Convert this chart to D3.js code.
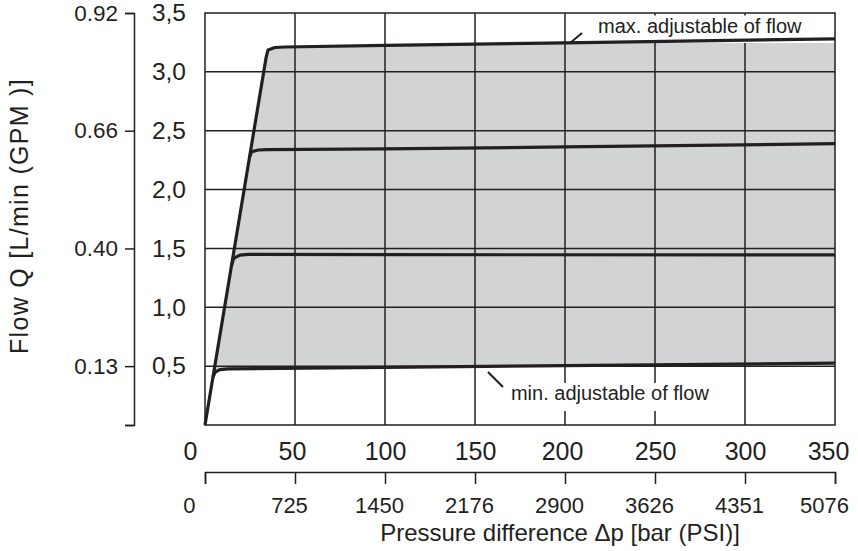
<!DOCTYPE html>
<html>
<head>
<meta charset="utf-8">
<script src="https://cdn.jsdelivr.net/npm/d3@7/dist/d3.min.js"></script>
<style>
  html, body { margin: 0; padding: 0; background: #ffffff; }
  svg { display: block; }
  text { font-family: "Liberation Sans", Arial, Helvetica, sans-serif; fill: #231f20; }
</style>
</head>
<body>
<svg id="chart" width="858" height="551"></svg>
<script>
// ---------- data ----------
const xBarTicks = [0, 50, 100, 150, 200, 250, 300, 350];
const xPsiLabels = ["0", "725", "1450", "2176", "2900", "3626", "4351", "5076"];
const yTicks = [0.5, 1.0, 1.5, 2.0, 2.5, 3.0, 3.5];
const yTickLabels = ["0,5", "1,0", "1,5", "2,0", "2,5", "3,0", "3,5"];
const gpmTickPos = [0, 0.5, 1.5, 2.5, 3.5];
const gpmTickLabels = ["", "0.13", "0.40", "0.66", "0.92"];

// curves: [pressure bar, flow L/min]
const curveMax = [[0, 0], [33.9, 3.118], [35.0, 3.186], [38.9, 3.207], [44.4, 3.211], [100, 3.225], [200, 3.247], [350, 3.28]];
const curveHigh = [[24.8, 2.28], [26.0, 2.322], [29.6, 2.336], [34.3, 2.339], [100, 2.345], [200, 2.362], [350, 2.39]];
const curveMid = [[14.6, 1.345], [15.9, 1.415], [19.4, 1.443], [24.1, 1.449], [100, 1.447], [350, 1.445]];
const curveMin = [[4.4, 0.408], [5.7, 0.45], [8.3, 0.471], [12.8, 0.476], [100, 0.49], [200, 0.505], [350, 0.525]];

const labelMax = "max. adjustable of flow";
const labelMin = "min. adjustable of flow";
const xTitle = "Pressure difference \u0394p [bar (PSI)]";
const yTitle = "Flow Q [L/min (GPM )]";

// ---------- layout ----------
const ink = "#231f20";
const svg = d3.select("#chart");
svg.append("rect").attr("width", 858).attr("height", 551).attr("fill", "#fff");

const x = d3.scaleLinear().domain([0, 350]).range([205, 835]);
const y = d3.scaleLinear().domain([0, 3.5]).range([425, 13]);

const line = d3.line().x(d => x(d[0])).y(d => y(d[1])).curve(d3.curveLinear);

// fill between max and min curves
const fillPts = curveMax.concat(curveMin.slice().reverse());
svg.append("path")
  .attr("d", line(fillPts) + "Z")
  .attr("fill", "#d1d3d4")
  .attr("stroke", "none");

// grid
const grid = svg.append("g").attr("stroke", ink).attr("stroke-width", 1.5);
xBarTicks.filter(v => v > 0 && v < 350).forEach(v => {
  grid.append("line").attr("x1", x(v)).attr("x2", x(v)).attr("y1", y(0)).attr("y2", y(3.5));
});
yTicks.filter(v => v < 3.5).forEach(v => {
  grid.append("line").attr("x1", x(0)).attr("x2", x(350)).attr("y1", y(v)).attr("y2", y(v));
});
svg.append("rect")
  .attr("x", x(0)).attr("y", y(3.5))
  .attr("width", x(350) - x(0)).attr("height", y(0) - y(3.5))
  .attr("fill", "none").attr("stroke", ink).attr("stroke-width", 1.5);

// label boxes (white backgrounds)
const maxAnchor = [202.8, 3.245];
const minAnchor = [157.2, 0.45];

const gMax = svg.append("g");
const tMax = gMax.append("text")
  .attr("x", x(maxAnchor[0]) + 28).attr("y", y(maxAnchor[1]) - 10)
  .attr("font-size", 20).text(labelMax);
const bbMax = tMax.node().getBBox();
gMax.insert("rect", "text")
  .attr("x", bbMax.x - 6).attr("y", y(3.5) + 2.5)
  .attr("width", x(350) - 1 - (bbMax.x - 6)).attr("height", y(maxAnchor[1]) - (y(3.5) + 2.5))
  .attr("fill", "#fff");

const gMin = svg.append("g");
const tMin = gMin.append("text")
  .attr("x", x(minAnchor[0]) + 23).attr("y", y(minAnchor[1]) + 28)
  .attr("font-size", 20).text(labelMin);
const bbMin = tMin.node().getBBox();
gMin.insert("rect", "text")
  .attr("x", bbMin.x - 4).attr("y", bbMin.y + 1)
  .attr("width", bbMin.width + 8).attr("height", bbMin.height + 6)
  .attr("fill", "#fff");

// curves
[curveMax, curveHigh, curveMid, curveMin].forEach(c => {
  svg.append("path")
    .attr("d", line(c))
    .attr("fill", "none")
    .attr("stroke", ink)
    .attr("stroke-width", 3.2)
    .attr("stroke-linejoin", "round")
    .attr("stroke-linecap", "butt");
});

// leader lines
svg.append("line")
  .attr("x1", x(maxAnchor[0])).attr("y1", y(maxAnchor[1]))
  .attr("x2", x(maxAnchor[0]) + 12).attr("y2", y(maxAnchor[1]) - 10)
  .attr("stroke", ink).attr("stroke-width", 2);
svg.append("line")
  .attr("x1", x(minAnchor[0])).attr("y1", y(minAnchor[1]))
  .attr("x2", x(minAnchor[0]) + 15).attr("y2", y(minAnchor[1]) + 15)
  .attr("stroke", ink).attr("stroke-width", 2);

// primary x axis labels (bar)
const xAxis = svg.append("g")
  .attr("transform", `translate(0,${y(0)})`)
  .call(d3.axisBottom(x).tickValues(xBarTicks).tickSize(0).tickPadding(17).tickFormat(d3.format("d")));
xAxis.select(".domain").remove();
xAxis.selectAll("text").attr("font-size", 25).attr("fill", ink).attr("font-family", null)
  .attr("dx", d => d === 0 ? -8 : (d === 350 ? -7 : (d === 50 || d === 200 ? -3 : 0)))
  .attr("text-anchor", d => d === 0 ? "end" : "middle");

// secondary x axis (PSI)
const xAxis2 = svg.append("g")
  .attr("transform", `translate(0,472)`)
  .call(d3.axisBottom(x).tickValues(xBarTicks).tickSize(12).tickSizeOuter(12).tickPadding(13)
    .tickFormat((d, i) => xPsiLabels[i]));
xAxis2.selectAll("path, line").attr("stroke", ink).attr("stroke-width", 1.5);
xAxis2.selectAll("text").attr("font-size", 22).attr("fill", ink).attr("font-family", null)
  .attr("dx", d => d === 0 ? -10 : (d === 350 ? -11 : -6))
  .attr("text-anchor", d => d === 0 ? "end" : "middle");

// primary y axis labels (L/min)
const yAxis = svg.append("g")
  .attr("transform", `translate(${x(0)},0)`)
  .call(d3.axisLeft(y).tickValues(yTicks).tickSize(0).tickPadding(19)
    .tickFormat((d, i) => yTickLabels[i]));
yAxis.select(".domain").remove();
yAxis.selectAll("text").attr("font-size", 24.5).attr("fill", ink).attr("font-family", null);

// secondary y axis (GPM)
const yAxis2 = svg.append("g")
  .attr("transform", `translate(134,0)`)
  .call(d3.axisLeft(y).tickValues(gpmTickPos).tickSize(9).tickSizeOuter(9).tickPadding(7)
    .tickFormat((d, i) => gpmTickLabels[i]));
yAxis2.selectAll("path, line").attr("stroke", ink).attr("stroke-width", 1.5);
yAxis2.selectAll("text").attr("font-size", 22.5).attr("fill", ink).attr("font-family", null);

// titles
svg.append("text")
  .attr("x", 560).attr("y", 541)
  .attr("text-anchor", "middle").attr("font-size", 24)
  .text(xTitle);
svg.append("text")
  .attr("transform", "translate(28,216) rotate(-90)")
  .attr("text-anchor", "middle").attr("font-size", 25)
  .attr("letter-spacing", 1.3)
  .text(yTitle);
</script>
</body>
</html>
